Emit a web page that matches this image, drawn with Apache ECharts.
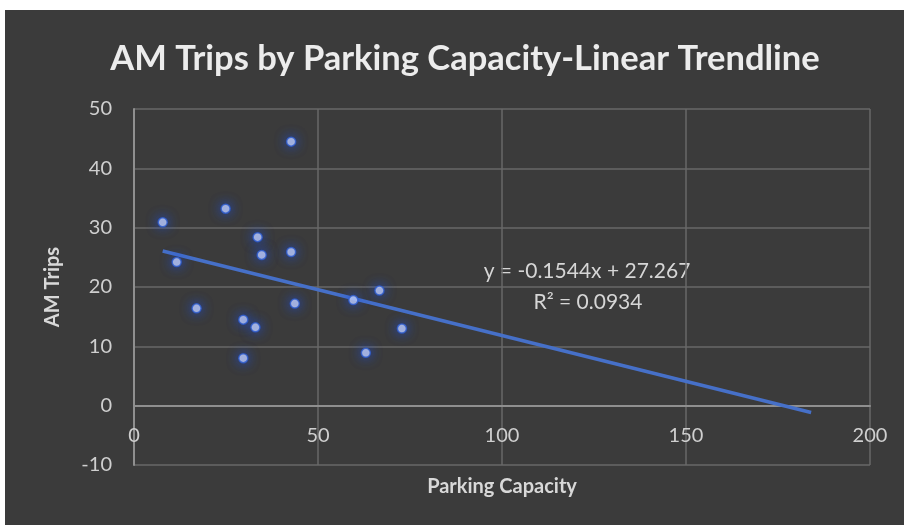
<!DOCTYPE html>
<html>
<head>
<meta charset="utf-8">
<script src="https://cdn.jsdelivr.net/npm/echarts@6/dist/echarts.min.js"></script>
<style>
  html, body { margin: 0; padding: 0; background: #ffffff; }
  #chart { position: absolute; left: 5px; top: 10px; width: 899px; height: 515px; }
</style>
</head>
<body>
<div id="chart"></div>
<script>
// Parking capacity (x) and AM trips (y) per site
const parkingCapacity = [42.7, 24.9, 7.8, 33.6, 34.7, 42.7, 11.6, 17.0, 29.7, 33.0, 29.7, 43.7, 59.6, 66.7, 72.8, 63.0];
const amTrips        = [44.5, 33.2, 30.9, 28.4, 25.4, 25.9, 24.2, 16.4, 14.5, 13.2, 8.0, 17.2, 17.8, 19.4, 13.0, 8.9];

// Linear trendline as stated in its label
const trendSlope = -0.1544;
const trendIntercept = 27.267;
const trendR2 = 0.0934;
const trendRange = [7.8, 184];

const xTicks = [0, 50, 100, 150, 200];
const yTicks = [-10, 0, 10, 20, 30, 40, 50];

const points = parkingCapacity.map((x, i) => [x, amTrips[i]]);
const trendPoints = trendRange.map(x => [x, trendIntercept + trendSlope * x]);

const fontFamily = 'Lato, "Open Sans", sans-serif';
const chart = echarts.init(document.getElementById('chart'));

chart.setOption({
  backgroundColor: '#3b3b3b',
  animation: false,
  title: {
    text: 'AM Trips by Parking Capacity-Linear Trendline',
    left: 455,
    textAlign: 'center',
    top: 26,
    textStyle: { color: '#ececec', fontSize: 34.5, fontWeight: 'bold', fontFamily: fontFamily }
  },
  grid: { left: 129, right: 34, top: 99, bottom: 60, containLabel: false, outerBoundsMode: 'none' },
  xAxis: {
    type: 'value',
    min: xTicks[0], max: xTicks[xTicks.length - 1], interval: 50,
    name: 'Parking Capacity',
    nameLocation: 'middle',
    nameGap: 12,
    nameTextStyle: { color: '#d8d8d8', fontSize: 20, fontWeight: 'bold', fontFamily: fontFamily, verticalAlign: 'top' },
    axisLine: { onZero: true, lineStyle: { color: '#8f8f8f', width: 2 } },
    axisTick: { show: false },
    // tick labels sit just under the zero line, inside the plot
    axisLabel: { color: '#cfcfcf', fontSize: 20, margin: -39, fontFamily: fontFamily },
    splitLine: { show: true, lineStyle: { color: '#686868', width: 1.5 } }
  },
  yAxis: {
    type: 'value',
    min: yTicks[0], max: yTicks[yTicks.length - 1], interval: 10,
    name: 'AM Trips',
    nameLocation: 'middle',
    nameGap: 71,
    nameTextStyle: { color: '#d8d8d8', fontSize: 20, fontWeight: 'bold', fontFamily: fontFamily },
    axisLine: { show: true, onZero: false, lineStyle: { color: '#8f8f8f', width: 2 } },
    axisTick: { show: false },
    axisLabel: { color: '#cfcfcf', fontSize: 20, margin: 22, fontFamily: fontFamily },
    splitLine: { show: true, lineStyle: { color: '#686868', width: 1.5 } }
  },
  series: [
    {
      type: 'line',
      data: trendPoints,
      showSymbol: false,
      lineStyle: { color: '#4670c8', width: 3.5 },
      z: 2
    },
    {
      type: 'scatter',
      data: points,
      symbolSize: 9,
      itemStyle: {
        color: '#d4deff',
        borderColor: '#2c5bd0',
        borderWidth: 1.5,
        shadowBlur: 12,
        shadowColor: 'rgba(30, 80, 230, 1)'
      },
      z: 3
    }
  ],
  graphic: [
    {
      type: 'text',
      x: 582, y: 261,
      style: {
        text: 'y = -0.1544x + 27.267',
        fill: '#d6d6d6', fontSize: 21, fontFamily: fontFamily,
        align: 'center', verticalAlign: 'middle'
      }
    },
    {
      type: 'text',
      x: 583, y: 292,
      style: {
        text: 'R² = ' + trendR2.toFixed(4),
        fill: '#d6d6d6', fontSize: 21, fontFamily: fontFamily,
        align: 'center', verticalAlign: 'middle'
      }
    }
  ]
});
</script>
</body>
</html>
